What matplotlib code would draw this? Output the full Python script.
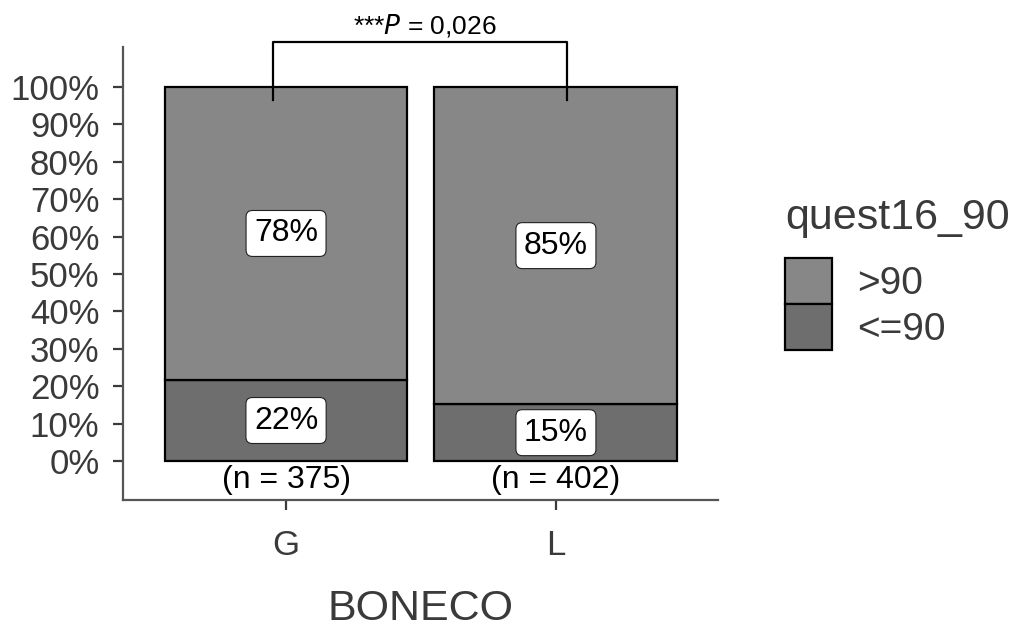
import matplotlib
matplotlib.use("Agg")
import matplotlib.pyplot as plt
import numpy as np

plt.rcParams['font.family'] = ['Liberation Sans', 'DejaVu Sans']

# data
groups = ["G", "L"]
counts = [375, 402]
share_low = [0.217, 0.152]     # <=90
share_high = [0.783, 0.848]    # >90
label_low = ["22%", "15%"]
label_high = ["78%", "85%"]
p_text = "0,026"

col_high = "#878787"
col_low = "#6e6e6e"
txt_col = "#3a3a3a"

fig = plt.figure(figsize=(10.22, 6.28), dpi=100)
ax = fig.add_axes([0.1204, 0.2038, 0.582, 0.7214])

x = np.arange(len(groups))
ax.bar(x, share_low, width=0.9, color=col_low, edgecolor="black", linewidth=1.6, label="<=90")
ax.bar(x, share_high, width=0.9, bottom=share_low, color=col_high, edgecolor="black",
       linewidth=1.6, label=">90")

box = dict(boxstyle="round,pad=0.25,rounding_size=0.2", fc="white", ec="#222222", lw=0.8)
for i in x:
    ax.text(i, share_low[i] / 2, label_low[i], ha="center", va="center", fontsize=23,
            color="black", bbox=box)
    ax.text(i, share_low[i] + share_high[i] / 2, label_high[i], ha="center", va="center",
            fontsize=23, color="black", bbox=box)
    ax.text(i, -0.01, f"(n = {counts[i]})", ha="center", va="top", fontsize=23, color="black")

# significance bracket
ax.plot([-0.05, -0.05, 1.04, 1.04], [0.965, 1.12, 1.12, 0.965], color="black", lw=1.6,
        clip_on=False)
ax.text(0.514, 1.127, r"***$\it{P}$ = " + p_text, ha="center", va="bottom", fontsize=19,
        color="black")

ax.set_xlim(-0.604, 1.6)
ax.set_ylim(-0.104, 1.107)
ax.set_xticks(x)
ax.set_xticklabels(groups)
yt = np.arange(0, 1.01, 0.1)
ax.set_yticks(yt)
ax.set_yticklabels([f"{int(round(v * 100))}%" for v in yt])
ax.tick_params(labelsize=25, colors=txt_col, length=7, width=1.6, pad=10)
ax.tick_params(axis="x", pad=14)
for s in ["top", "right"]:
    ax.spines[s].set_visible(False)
for s in ["left", "bottom"]:
    ax.spines[s].set_color("#555555")
    ax.spines[s].set_linewidth(1.6)
ax.set_xlabel("BONECO", fontsize=31, color=txt_col, labelpad=19)

# legend: title drawn on its own so the gap above the keys matches
fig.text(0.768, 0.635, "quest16_90", fontsize=31, color=txt_col, ha="left", va="baseline")
h, l = ax.get_legend_handles_labels()
leg = fig.legend(h[::-1], l[::-1], loc="upper left",
                 bbox_to_anchor=(0.768, 0.589), frameon=False, fontsize=28,
                 handlelength=1.2, handleheight=1.45,
                 labelspacing=0.0, handletextpad=0.65, borderpad=0, borderaxespad=0)
for t in leg.get_texts():
    t.set_color(txt_col)

fig.savefig("out.png", dpi=100)
